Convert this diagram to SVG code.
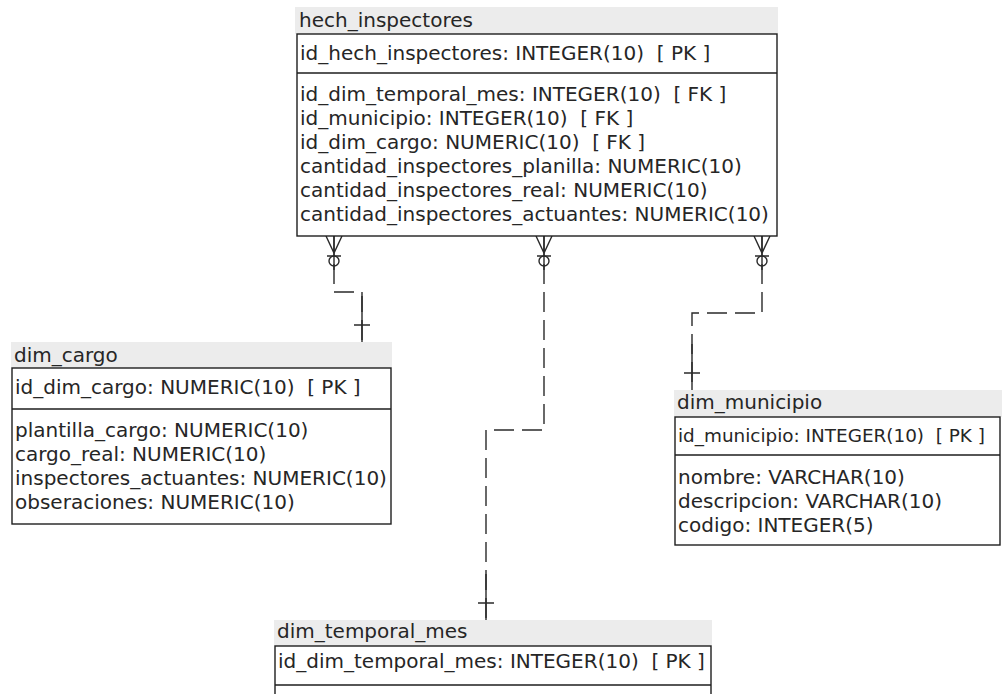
<svg xmlns="http://www.w3.org/2000/svg" width="1002" height="694" viewBox="0 0 1002 694">
  <style>
    text { font-family: "DejaVu Sans", "Liberation Sans", sans-serif; font-size: 20px; fill: #262626; white-space: pre; }
    .band { fill: #ececec; }
    .box { fill: #ffffff; stroke: #1e1e1e; stroke-width: 1.4; }
    .sep { stroke: #1e1e1e; stroke-width: 1.4; }
    .rel { fill: none; stroke: #2a2a2a; stroke-width: 1.4; stroke-dasharray: 20 8; }
    .solid { fill: none; stroke: #2a2a2a; stroke-width: 1.4; }
  </style>
  <defs>
    <!-- zero-or-many end, drawn hanging down from a table's bottom edge at (0,0) -->
    <g id="zero-many">
      <path class="solid" d="M-8,0 L0,17 L8,0 M0,0 V34 M-7,20 H7"/>
      <circle class="solid" cx="0" cy="25" r="5"/>
    </g>
    <!-- exactly-one end, stub ending at a table's title band at (0,0) -->
    <g id="one">
      <path class="solid" d="M0,-46 V0 M-8,-17 H8"/>
    </g>
  </defs>

  <rect width="1002" height="694" fill="#ffffff"/>

  <!-- relationships -->
  <g id="connectors">
    <path class="rel" d="M334,236 V292 H362 V341"/>
    <use href="#zero-many" x="334" y="236"/>
    <use href="#one" x="362" y="342"/>

    <path class="rel" d="M544,236 V430 H486 V620"/>
    <use href="#zero-many" x="544" y="236"/>
    <use href="#one" x="486" y="620"/>

    <path class="rel" d="M762,236 V313 H692 V390"/>
    <use href="#zero-many" x="762" y="236"/>
    <use href="#one" x="692" y="390"/>
  </g>

  <g id="hech_inspectores">
    <rect class="band" x="295" y="7" width="483" height="27"/>
    <text x="299" y="27">hech_inspectores</text>
    <rect class="box" x="297" y="34" width="480" height="202"/>
    <line class="sep" x1="297" y1="73" x2="777" y2="73"/>
    <text x="300" y="60">id_hech_inspectores: INTEGER(10)  [ PK ]</text>
    <text x="300" y="101">id_dim_temporal_mes: INTEGER(10)  [ FK ]</text>
    <text x="300" y="125">id_municipio: INTEGER(10)  [ FK ]</text>
    <text x="300" y="149">id_dim_cargo: NUMERIC(10)  [ FK ]</text>
    <text x="300" y="173">cantidad_inspectores_planilla: NUMERIC(10)</text>
    <text x="300" y="197">cantidad_inspectores_real: NUMERIC(10)</text>
    <text x="300" y="221">cantidad_inspectores_actuantes: NUMERIC(10)</text>
  </g>

  <g id="dim_cargo">
    <rect class="band" x="11" y="342" width="381" height="26"/>
    <text x="14" y="362">dim_cargo</text>
    <rect class="box" x="12" y="368" width="379" height="156"/>
    <line class="sep" x1="12" y1="409" x2="391" y2="409"/>
    <text x="15" y="394">id_dim_cargo: NUMERIC(10)  [ PK ]</text>
    <text x="15" y="437">plantilla_cargo: NUMERIC(10)</text>
    <text x="15" y="461">cargo_real: NUMERIC(10)</text>
    <text x="15" y="485">inspectores_actuantes: NUMERIC(10)</text>
    <text x="15" y="509">obseraciones: NUMERIC(10)</text>
  </g>

  <g id="dim_municipio">
    <rect class="band" x="674" y="390" width="328" height="27"/>
    <text x="677" y="409">dim_municipio</text>
    <rect class="box" x="675" y="417" width="325" height="128"/>
    <line class="sep" x1="675" y1="455" x2="1000" y2="455"/>
    <text x="678" y="442" style="font-size:18.4px">id_municipio: INTEGER(10)  [ PK ]</text>
    <text x="678" y="484">nombre: VARCHAR(10)</text>
    <text x="678" y="508">descripcion: VARCHAR(10)</text>
    <text x="678" y="532">codigo: INTEGER(5)</text>
  </g>

  <g id="dim_temporal_mes">
    <rect class="band" x="274" y="620" width="438" height="26"/>
    <text x="277" y="638">dim_temporal_mes</text>
    <rect class="box" x="275" y="646" width="436" height="80"/>
    <line class="sep" x1="275" y1="685" x2="711" y2="685"/>
    <text x="278" y="668">id_dim_temporal_mes: INTEGER(10)  [ PK ]</text>
  </g>
</svg>
